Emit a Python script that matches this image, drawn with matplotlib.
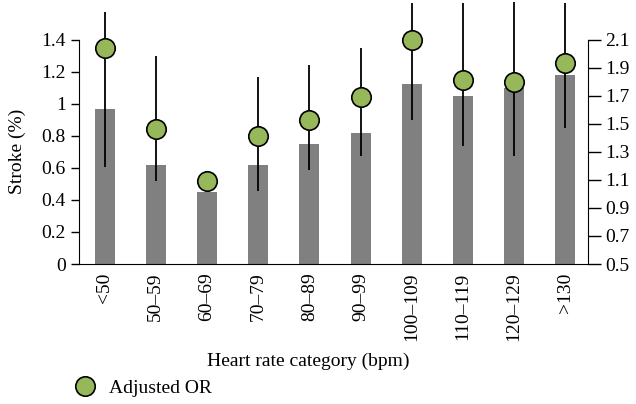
import matplotlib.pyplot as plt
import numpy as np
from matplotlib.lines import Line2D
from matplotlib.ticker import FormatStrFormatter

plt.rcParams['font.family'] = ['Liberation Serif', 'DejaVu Serif']

# data
categories = ['<50', '50–59', '60–69', '70–79', '80–89', '90–99',
              '100–109', '110–119', '120–129', '>130']
stroke = [0.97, 0.62, 0.45, 0.62, 0.75, 0.82, 1.12, 1.05, 1.10, 1.18]
or_adj = [2.04, 1.46, 1.09, 1.41, 1.53, 1.69, 2.10, 1.81, 1.80, 1.93]
or_low = [1.19, 1.09, 1.05, 1.02, 1.17, 1.27, 1.53, 1.34, 1.27, 1.47]
or_high = [2.30, 1.98, 1.13, 1.83, 1.92, 2.04, 2.36, 2.36, 2.37, 2.36]

x = np.arange(len(categories))
fs = 14

fig = plt.figure(figsize=(6.36, 4.04), dpi=100)
ax = fig.add_axes([0.1242, 0.3465, 0.8, 0.5555])
ax.bar(x, stroke, width=0.39, color='#808080', zorder=1)
ax.set_xlim(-0.5, 9.44)
ax.set_ylim(0, 1.4)
ax.set_yticks(np.arange(0, 1.41, 0.2))
ax.yaxis.set_major_formatter(FormatStrFormatter('%g'))
ax.set_xticks(x)
ax.set_xticklabels(categories, rotation=90, va='top')
ax.tick_params(axis='x', length=0, pad=6, labelsize=fs)
ax.tick_params(axis='y', direction='out', length=6, width=1, labelsize=fs)
ax.spines['top'].set_visible(False)
ax.spines['right'].set_visible(False)
ax.set_ylabel('Stroke (%)', fontsize=fs)
ax.yaxis.set_label_coords(-0.105, 0.5)
ax.set_xlabel('Heart rate category (bpm)', fontsize=fs)
ax.xaxis.set_label_coords(0.45, -0.395)

ax2 = ax.twinx()
ax2.set_ylim(0.5, 2.1)
ax2.set_yticks(np.arange(0.5, 2.11, 0.2))
ax2.yaxis.set_major_formatter(FormatStrFormatter('%g'))
ax2.tick_params(axis='y', direction='out', length=9, width=1, labelsize=fs)
ax2.spines['top'].set_visible(False)
ax2.spines['left'].set_visible(False)
ax2.spines['bottom'].set_visible(False)

or_adj_a = np.array(or_adj)
yerr = [or_adj_a - np.array(or_low), np.array(or_high) - or_adj_a]
ax2.errorbar(x, or_adj, yerr=yerr, fmt='none', ecolor='black', elinewidth=1.3,
             capsize=0, clip_on=False, zorder=2)
ax2.plot(x, or_adj, 'o', markersize=14, markerfacecolor='#97b85a',
         markeredgecolor='black', markeredgewidth=1.2, clip_on=False,
         linestyle='none', zorder=3)

handle = Line2D([], [], marker='o', linestyle='none', markersize=14,
                markerfacecolor='#97b85a', markeredgecolor='black',
                markeredgewidth=1.2)
fig.legend([handle], ['Adjusted OR'], loc='center left',
           bbox_to_anchor=(0.116, 0.04), frameon=False, fontsize=fs,
           handlelength=1.2, handletextpad=0.6, borderpad=0, borderaxespad=0)

fig.savefig('out.png', dpi=100)
